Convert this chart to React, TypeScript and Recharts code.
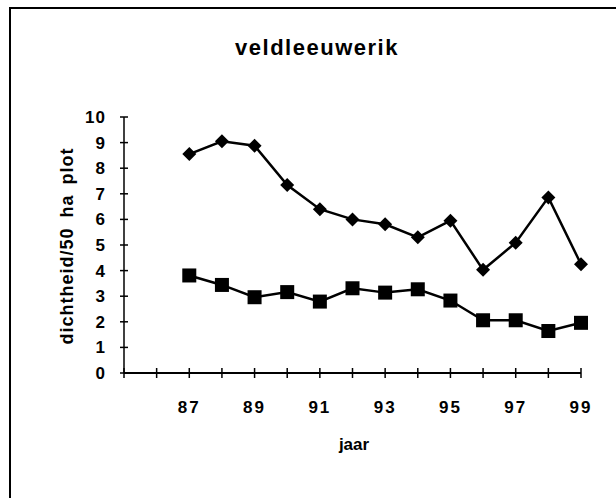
import { LineChart, Line, XAxis, YAxis } from 'recharts';

const years = [87, 88, 89, 90, 91, 92, 93, 94, 95, 96, 97, 98, 99];
const diamondValues = [8.55, 9.05, 8.88, 7.34, 6.4, 6.0, 5.81, 5.3, 5.95, 4.03, 5.09, 6.86, 4.25];
const squareValues = [3.81, 3.44, 2.96, 3.16, 2.79, 3.31, 3.14, 3.27, 2.83, 2.06, 2.06, 1.64, 1.96];
const xTicks = [85, 86, 87, 88, 89, 90, 91, 92, 93, 94, 95, 96, 97, 98, 99];
const xLabels = [87, 89, 91, 93, 95, 97, 99];
const yTicks = [0, 1, 2, 3, 4, 5, 6, 7, 8, 9, 10];

const data = years.map((year, i) => ({
    year,
    diamond: diamondValues[i],
    square: squareValues[i],
}));

const FONT = "'Liberation Sans', Arial, Helvetica, sans-serif";

function XTick({ x, y, payload }: any) {
    const show = xLabels.includes(payload.value);
    return (
        <g>
            <line x1={x} x2={x} y1={y - 5} y2={y + 5} stroke="#000" strokeWidth={1.5} />
            {show && (
                <text x={x} y={y + 40} textAnchor="middle" fontFamily={FONT} fontWeight="bold" fontSize={17} letterSpacing={2} fill="#000">
                    {payload.value}
                </text>
            )}
        </g>
    );
}

function YTick({ x, y, payload }: any) {
    return (
        <g>
            <line x1={x - 4} x2={x + 4} y1={y} y2={y} stroke="#000" strokeWidth={1.5} />
            <text x={x - 18} y={y + 6} textAnchor="end" fontFamily={FONT} fontWeight="bold" fontSize={17} letterSpacing={1} fill="#000">
                {payload.value}
            </text>
        </g>
    );
}

function Diamond({ cx, cy }: any) {
    if (cx == null || cy == null) return <g />;
    return <path d={`M${cx},${cy - 7} L${cx + 7},${cy} L${cx},${cy + 7} L${cx - 7},${cy} Z`} fill="#000" />;
}

function Square({ cx, cy }: any) {
    if (cx == null || cy == null) return <g />;
    return <rect x={cx - 7} y={cy - 7} width={14} height={14} fill="#000" />;
}

export default function App() {
    return (
        <div style={{ position: 'absolute', left: 0, top: 0, width: 616, height: 498, background: '#fff', fontFamily: FONT }}>
            <div style={{ position: 'absolute', left: 9, top: 7, right: 0, bottom: 0, borderLeft: '2px solid #000', borderTop: '2px solid #000' }} />
            <div style={{ position: 'absolute', left: 0, width: 634, top: 35, textAlign: 'center', fontWeight: 'bold', fontSize: 22, letterSpacing: 1.5 }}>
                veldleeuwerik
            </div>
            <div
                style={{
                    position: 'absolute',
                    left: 67,
                    top: 246,
                    transform: 'translate(-50%, -50%) rotate(-90deg)',
                    whiteSpace: 'nowrap',
                    fontWeight: 'bold',
                    fontSize: 18,
                    letterSpacing: 1,
                    wordSpacing: 4,
                }}
            >
                dichtheid/50 ha plot
            </div>
            <div style={{ position: 'absolute', left: 354, top: 445, transform: 'translate(-50%, -50%)', fontWeight: 'bold', fontSize: 17 }}>
                jaar
            </div>
            <div style={{ position: 'absolute', left: 0, top: 0 }}>
                <LineChart width={616} height={498} data={data} margin={{ top: 117, right: 35, bottom: 65, left: 0 }}>
                    <XAxis
                        dataKey="year"
                        type="number"
                        domain={[85, 99]}
                        ticks={xTicks}
                        interval={0}
                        height={60}
                        tickSize={0}
                        tickMargin={0}
                        tickLine={false}
                        tick={<XTick />}
                        axisLine={{ stroke: '#000', strokeWidth: 2 }}
                    />
                    <YAxis
                        type="number"
                        domain={[0, 10]}
                        ticks={yTicks}
                        interval={0}
                        width={124}
                        tickSize={0}
                        tickMargin={0}
                        tickLine={false}
                        tick={<YTick />}
                        axisLine={{ stroke: '#000', strokeWidth: 1.5 }}
                    />
                    <Line dataKey="diamond" stroke="#000" strokeWidth={2.5} dot={<Diamond />} activeDot={false} isAnimationActive={false} />
                    <Line dataKey="square" stroke="#000" strokeWidth={2.5} dot={<Square />} activeDot={false} isAnimationActive={false} />
                </LineChart>
            </div>
        </div>
    );
}
